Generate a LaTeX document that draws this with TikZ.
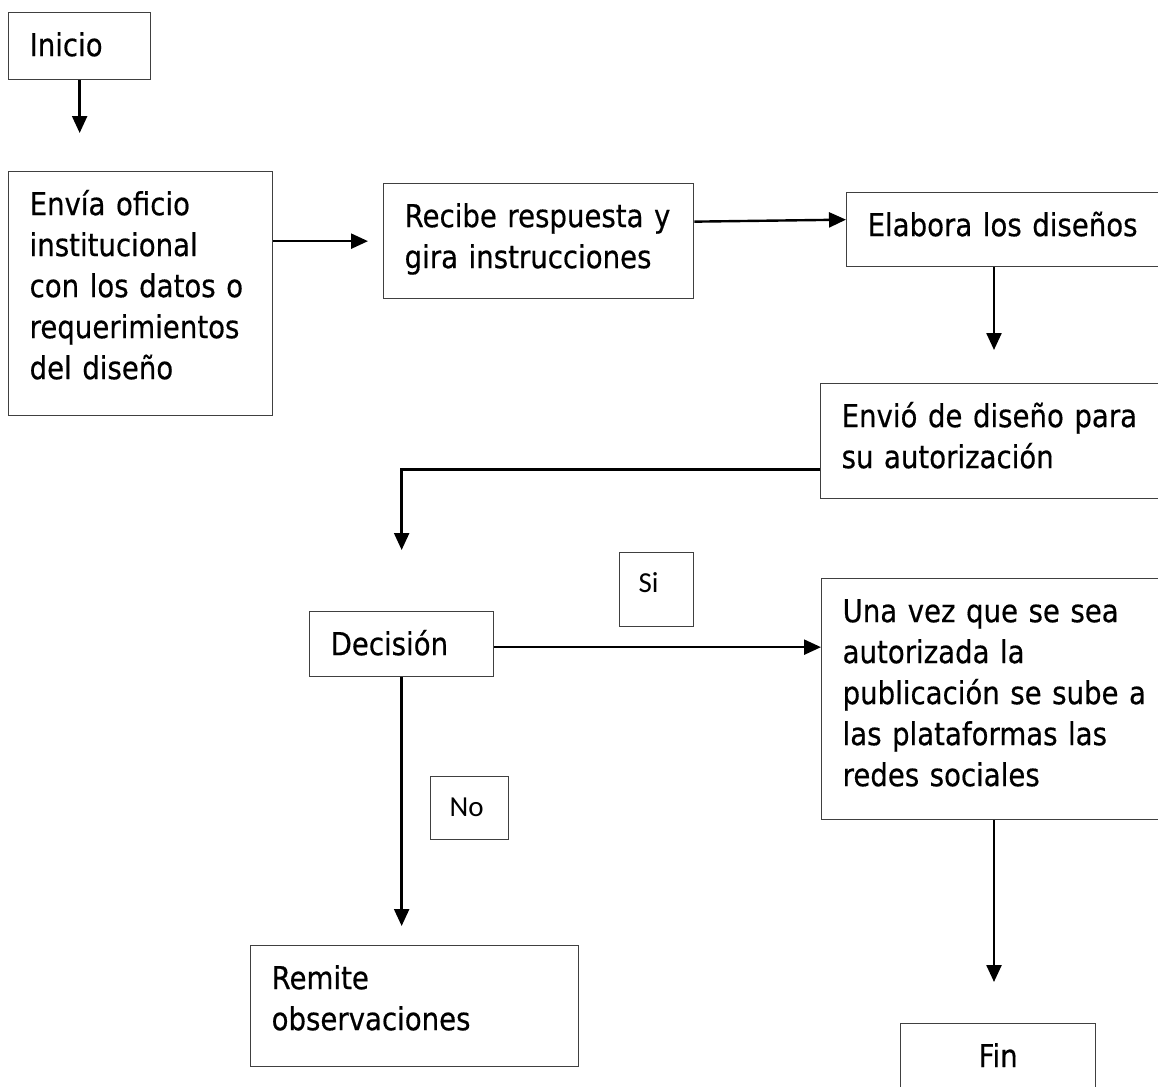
\documentclass[tikz,border=0pt]{standalone}
\usepackage{fontspec}
\setmainfont{DejaVu Sans}[FakeStretch=0.873,FakeBold=0.5]
\newfontfamily\etiquetafont{Carlito}
\usepackage{tikz}
\usetikzlibrary{arrows.meta,positioning}
\definecolor{borde}{HTML}{404040}

\begin{document}
\begin{tikzpicture}[x=0.5pt,y=-0.5pt,
  paso/.style={draw=borde,line width=0.65pt,anchor=north west,inner xsep=10.5pt,inner ysep=0pt,
    align=left,font=\fontsize{15.8}{20.5}\selectfont,text height=21.75pt,text depth={#1pt-21.75pt}},
  etiqueta/.style={draw=borde,line width=0.65pt,anchor=north west,inner xsep=9.5pt,inner ysep=0pt,
    align=left,font=\etiquetafont\fontsize{14.5}{17}\selectfont,text height=20pt,text depth={#1pt-20pt}},
  flecha/.style={line width=1.2pt,-{Triangle[length=8.5pt,width=7.5pt]}}]
  \path[use as bounding box,fill=white] (0,0) rectangle (1158,1087);
  % pasos del proceso
  \node[paso=33.5,text width=50pt] (inicio) at (8,12) {Inicio};
  \node[paso=122,text width=111pt] (envia) at (8,171)
    {Envía oficio\\institucional\\con los datos o\\requerimientos\\del diseño};
  \node[paso=57.5,text width=134pt] (recibe) at (383,183)
    {Recibe respuesta y\\gira instrucciones};
  \node[paso=37,text width=170pt] (elabora) at (846,192) {Elabora los diseños};
  \node[paso=57.5,text width=170pt] (envio) at (820,383)
    {Envió de diseño para\\su autorización};
  \node[paso=32.5,text width=71pt] (decision) at (309,611) {Decisión};
  \node[paso=120.5,text width=170pt] (una) at (821,578)
    {Una vez que se sea\\autorizada la\\publicación se sube a\\las plataformas las\\redes sociales};
  \node[paso=60.5,text width=143pt] (remite) at (250,945) {Remite\\observaciones};
  \node[paso=35,text width=76.5pt,align=center] (fin) at (900,1023) {Fin};
  % etiquetas de la decision
  \node[etiqueta=37,text width=18pt] (si) at (619,552) {Si};
  \node[etiqueta=31.5,text width=20pt] (no) at (430,776) {No};
  \coordinate (eje) at (994,0);
  % flechas
  \draw[flecha,shorten >=19pt] (inicio.south) -- (inicio.south |- envia.north);
  \draw[flecha,shorten >=7.5pt] (envia.east |- recibe.west) -- (recibe.west);
  \draw[flecha] ([yshift=9.75pt]recibe.east) -- ([yshift=5pt]elabora.west);
  \draw[flecha,shorten >=16.5pt] (elabora.south -| eje) -- (envio.north -| eje);
  \draw[flecha,shorten >=30.5pt] ([yshift=-14.25pt]envio.west) -| (decision.north);
  \draw[flecha] ([yshift=-1.5pt]decision.east) -- ([yshift=-1.5pt]decision.east -| una.west);
  \draw[flecha,shorten >=9.5pt] (decision.south) -- (decision.south |- remite.north);
  \draw[flecha,shorten >=20.5pt] (una.south -| eje) -- (fin.north -| eje);
\end{tikzpicture}
\end{document}
